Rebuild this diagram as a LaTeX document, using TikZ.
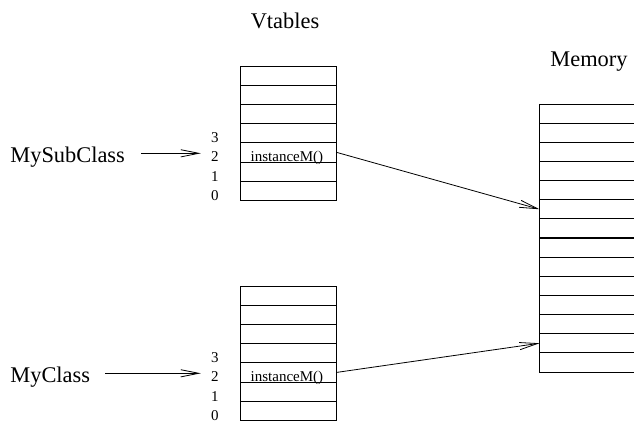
\documentclass[tikz,border=0pt]{standalone}
\usepackage{fontspec}
\setmainfont{Liberation Serif}
\usetikzlibrary{arrows.meta}
\tikzset{
  cell/.style={draw, inner sep=0pt, outer sep=0pt, minimum width=48.35pt, minimum height=9.6pt},
  memcell/.style={inner sep=0pt, outer sep=0pt, minimum width=47.25pt, minimum height=9.57pt},
  bigtext/.style={font=\fontsize{11.2}{13}\selectfont, inner sep=0pt},
  smalltext/.style={font=\fontsize{7.5}{9}\selectfont, inner sep=0pt, anchor=base},
  ptr/.style={-{Straight Barb[length=9pt,width=3.6pt]}, thin},
}
\begin{document}
\begin{tikzpicture}[x=0.5pt,y=-0.5pt]
    \useasboundingbox (0,0) rectangle (634,422);
    % vtables
    \node[bigtext, anchor=base] (vtitle) at (285,28.5) {Vtables};
    \foreach \i in {0,...,6} {
      \node[cell] (sub\i) at (288.35,75.6+19.2*\i) {};
      \node[cell] (cls\i) at (288.35,295.6+19.2*\i) {};
    }
    \foreach \k in {3,2,1,0} {
      \pgfmathtruncatemacro{\r}{6-\k}
      \node[smalltext] (subidx\k) at ([xshift=-36.7pt]sub\r.south) {\k};
      \node[smalltext] (clsidx\k) at ([xshift=-36.7pt]cls\r.south) {\k};
    }
    \node[smalltext] (subm) at ([xshift=-0.7pt]sub4.south) {instanceM()};
    \node[smalltext] (clsm) at ([xshift=-0.7pt]cls4.south) {instanceM()};
    % memory
    \node[bigtext, anchor=base] (memtitle) at (589,66.7) {Memory};
    \foreach \i in {0,...,13}
      \node[memcell] (mem\i) at (586.75,113.57+19.14*\i) {};
    \draw (mem0.north west) -- (mem13.south west);
    \foreach \i in {0,...,13}
      \draw (mem\i.north west) -- (mem\i.north east);
    \draw (mem13.south west) -- (mem13.south east);
    \draw[line width=0.8pt] (mem7.north west) -- (mem7.north east);
    % classes
    \node[bigtext, anchor=base west] (subname) at (10,162.7) {MySubClass};
    \node[bigtext, anchor=base west] (clsname) at (10,382.7) {MyClass};
    \draw[ptr] ([xshift=8pt,yshift=2.4pt]subname.mid east) -- ([xshift=-5pt,yshift=2.4pt]subname.mid east -| subidx2.west);
    \draw[ptr] ([xshift=7.5pt,yshift=2.4pt]clsname.mid east) -- ([xshift=-5pt,yshift=2.4pt]clsname.mid east -| clsidx2.west);
    % pointers into memory
    \draw[ptr] (sub4.east) -- (mem5.west);
    \draw[ptr] (cls4.east) -- (mem12.west);
\end{tikzpicture}
\end{document}
